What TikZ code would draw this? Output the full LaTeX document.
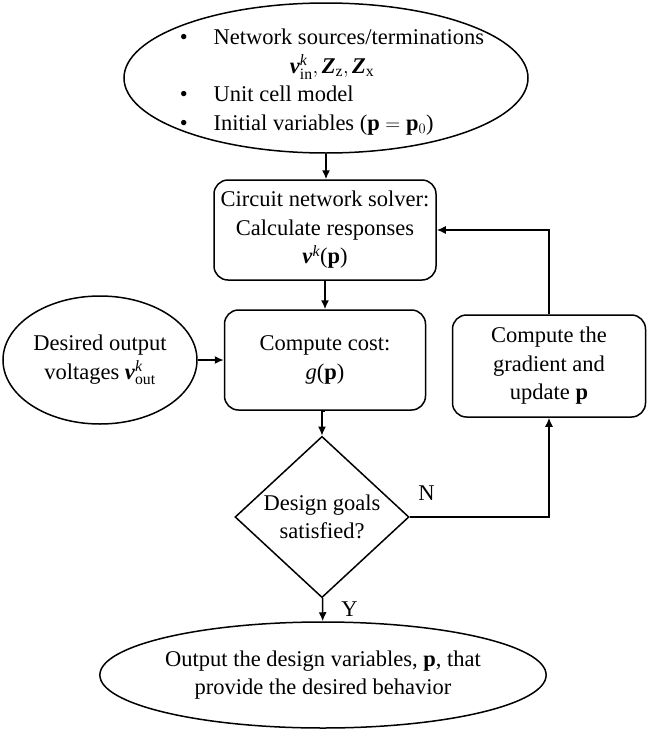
\documentclass[tikz,border=0pt]{standalone}
\usepackage{amsmath}
\usepackage{fontspec}
\setmainfont{Liberation Serif}
\usetikzlibrary{shapes.geometric,arrows.meta,positioning}
\newcommand{\bv}{\textbf{\textit{v}}}
\newcommand{\bZ}{\textbf{\textit{Z}}}
\newcommand{\bp}{\textbf{p}}
\newcommand{\kk}{\textit{k}}

\begin{document}
\begin{tikzpicture}[x=1pt,y=-1pt,line width=1.5pt,>={Latex[length=9pt,width=8pt]}]
    \tikzstyle{every node}+=[inner sep=0pt,font=\fontsize{22.5}{28.5}\selectfont,align=center]
    \tikzstyle{oval}=[draw,ellipse]
    \tikzstyle{block}=[draw,rounded corners=14pt]
    \tikzstyle{choice}=[draw,diamond]
    \useasboundingbox (0,0) rectangle (647,731);
    \node [oval,minimum width=404pt,minimum height=150pt] (inputs) at (326,78) {};
    \node (inputtext) at (332,82) {\begin{tabular}{@{}l@{\hspace{26pt}}l@{}}
        \textbullet & Network sources/terminations\\
        \multicolumn{2}{c}{$\bv^{\kk}_{\text{in}}, \bZ_{\text{z}}, \bZ_{\text{x}}$}\\
        \textbullet & Unit cell model\\
        \textbullet & Initial variables (\bp{} $=$ \bp$_0$)
    \end{tabular}};
    \node [block,minimum width=222pt,minimum height=100pt] (solver) at (325,230) {Circuit network solver:\\Calculate responses\\$\bv^{\kk}$(\bp)};
    \node [block,minimum width=201pt,minimum height=100pt] (cost) at (325,360) {Compute cost:\\\textit{g}(\bp)};
    \node [oval,minimum width=194pt,minimum height=128pt] (desired) at (100,360) {Desired output\\voltages $\bv^{\kk}_{\text{out}}$};
    \node [block,minimum width=193pt,minimum height=102pt] (update) at (549,366) {Compute the\\gradient and\\update \bp};
    \node [choice,minimum width=174pt,minimum height=160pt] (check) at (322,517) {Design goals\\satisfied?};
    \node [oval,minimum width=406pt,minimum height=106pt] (result) at (323,675) {Output the design variables, \bp, that\\provide the desired behavior};
    \draw [->] (inputs.south) -- (inputs.south |- solver.north);
    \draw [->] (solver) -- (cost);
    \draw [->] (desired) -- (cost);
    \draw [->] (cost.south) -- (cost.south -| check.north) -- (check.north);
    \draw [->] (check) -- node [right=18pt] {Y} (result);
    \draw [->] (check.east) -| node [pos=0.06,above=16pt] {N} (update.south);
    \draw [->] (update.north) |- (solver.east);
\end{tikzpicture}
\end{document}
